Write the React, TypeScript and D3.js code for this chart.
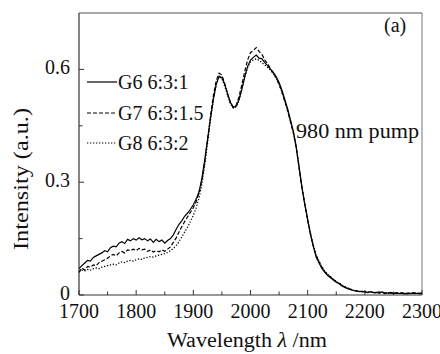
import React from "react";
import * as d3 from "d3";

const wavelengths: number[] = d3.range(1700, 2301, 5);

const g6Values: number[] = [
  0.070, 0.078, 0.085, 0.092, 0.090, 0.100, 0.104, 0.108, 0.112, 0.118,
  0.115, 0.126, 0.130, 0.128, 0.138, 0.142, 0.137, 0.148, 0.144, 0.150,
  0.146, 0.152, 0.147, 0.150, 0.144, 0.149, 0.140, 0.148, 0.142, 0.146,
  0.138, 0.145, 0.150, 0.160, 0.175, 0.188, 0.198, 0.210, 0.218, 0.228,
  0.240, 0.255, 0.275, 0.310, 0.360, 0.415, 0.470, 0.520, 0.560, 0.582,
  0.578, 0.560, 0.535, 0.512, 0.500, 0.502, 0.520, 0.548, 0.580, 0.608,
  0.625, 0.632, 0.638, 0.630, 0.628, 0.618, 0.610, 0.600, 0.592, 0.580,
  0.565, 0.545, 0.520, 0.495, 0.465, 0.435, 0.395, 0.340, 0.285, 0.240,
  0.200, 0.160, 0.128, 0.100, 0.085, 0.070, 0.060, 0.052, 0.046, 0.040,
  0.034, 0.030, 0.024, 0.020, 0.017, 0.014, 0.012, 0.011, 0.009, 0.010,
  0.008, 0.007, 0.009, 0.006, 0.007, 0.005, 0.008, 0.006, 0.005, 0.007,
  0.004, 0.006, 0.004, 0.005, 0.003, 0.005, 0.004, 0.006, 0.004, 0.005,
  0.004,
];

const g7Values: number[] = [
  0.060, 0.072, 0.066, 0.076, 0.074, 0.080, 0.078, 0.086, 0.090, 0.094,
  0.098, 0.104, 0.108, 0.104, 0.112, 0.116, 0.112, 0.120, 0.118, 0.122,
  0.118, 0.124, 0.120, 0.122, 0.116, 0.120, 0.114, 0.118, 0.115, 0.120,
  0.116, 0.122, 0.128, 0.140, 0.152, 0.168, 0.182, 0.196, 0.208, 0.220,
  0.232, 0.248, 0.272, 0.305, 0.355, 0.415, 0.475, 0.530, 0.570, 0.590,
  0.585, 0.562, 0.535, 0.510, 0.498, 0.505, 0.528, 0.560, 0.595, 0.625,
  0.645, 0.650, 0.658, 0.648, 0.640, 0.625, 0.615, 0.602, 0.590, 0.578,
  0.560, 0.540, 0.515, 0.490, 0.460, 0.430, 0.390, 0.338, 0.285, 0.242,
  0.200, 0.162, 0.130, 0.104, 0.088, 0.074, 0.062, 0.054, 0.048, 0.041,
  0.036, 0.031, 0.026, 0.021, 0.018, 0.015, 0.013, 0.010, 0.011, 0.008,
  0.009, 0.006, 0.008, 0.007, 0.005, 0.008, 0.006, 0.004, 0.007, 0.005,
  0.006, 0.004, 0.005, 0.006, 0.004, 0.003, 0.005, 0.004, 0.006, 0.003,
  0.005,
];

const g8Values: number[] = [
  0.062, 0.066, 0.064, 0.068, 0.066, 0.070, 0.072, 0.070, 0.074, 0.076,
  0.078, 0.080, 0.082, 0.080, 0.085, 0.088, 0.086, 0.090, 0.092, 0.090,
  0.094, 0.096, 0.095, 0.099, 0.100, 0.102, 0.101, 0.104, 0.106, 0.108,
  0.110, 0.113, 0.118, 0.124, 0.132, 0.142, 0.155, 0.168, 0.180, 0.196,
  0.212, 0.232, 0.258, 0.295, 0.345, 0.405, 0.465, 0.520, 0.560, 0.580,
  0.575, 0.555, 0.530, 0.508, 0.497, 0.500, 0.518, 0.548, 0.580, 0.605,
  0.620, 0.625, 0.628, 0.624, 0.618, 0.612, 0.605, 0.598, 0.588, 0.576,
  0.560, 0.540, 0.515, 0.490, 0.462, 0.432, 0.393, 0.340, 0.288, 0.243,
  0.202, 0.165, 0.132, 0.106, 0.090, 0.075, 0.063, 0.055, 0.049, 0.042,
  0.036, 0.032, 0.027, 0.022, 0.019, 0.016, 0.013, 0.012, 0.010, 0.009,
  0.010, 0.007, 0.008, 0.006, 0.008, 0.005, 0.007, 0.006, 0.004, 0.006,
  0.005, 0.004, 0.006, 0.003, 0.005, 0.004, 0.005, 0.003, 0.005, 0.004,
  0.004,
];

const seriesNames: string[] = ["G6 6:3:1", "G7 6:3:1.5", "G8 6:3:2"];
const xMajorTicks: number[] = [1700, 1800, 1900, 2000, 2100, 2200, 2300];
const xMinorTicks: number[] = [1750, 1850, 1950, 2050, 2150, 2250];
const yMajorTicks: number[] = [0, 0.3, 0.6];
const yMinorTicks: number[] = [0.15, 0.45];
const yTickLabels: string[] = ["0", "0.3", "0.6"];

const FF = "Liberation Serif";

function T(props: any) {
  const { children, style, ...rest } = props;
  return (
    <text fontFamily={FF} style={{ fontFamily: `"${FF}"`, ...(style || {}) }} fill="#111" {...rest}>
      {children}
    </text>
  );
}

export default function App() {
  const W = 440;
  const H = 354;
  const left = 79;
  const right = 422;
  const top = 13;
  const bottom = 295;

  const x = d3.scaleLinear().domain([1700, 2300]).range([left, right]);
  const y = d3.scaleLinear().domain([0, 0.75]).range([bottom, top]);

  const line = d3
    .line<number>()
    .x((_, i) => x(wavelengths[i]))
    .y((d) => y(d));

  const series = [
    { name: seriesNames[0], values: g6Values, dash: "none" },
    { name: seriesNames[1], values: g7Values, dash: "4,2" },
    { name: seriesNames[2], values: g8Values, dash: "1.3,1.7" },
  ];

  const legendY = [82, 113, 143];

  return (
    <svg
      width={W}
      height={H}
      fontFamily={FF}
      style={{ position: "absolute", left: 0, top: 0, background: "#fff", fontFamily: `"${FF}"` }}
    >
      <rect x={0} y={0} width={W} height={H} fill="#fff" />
      <line x1={left} x2={right} y1={top} y2={top} stroke="#555" strokeWidth={1} />
      <line x1={right} x2={right} y1={top} y2={bottom} stroke="#777" strokeWidth={1} />
      <line x1={left} x2={left} y1={top} y2={bottom} stroke="#333" strokeWidth={1.2} />
      <line x1={left} x2={right} y1={bottom} y2={bottom} stroke="#333" strokeWidth={1.2} />

      {xMajorTicks.map((t) => (
        <g key={"xm" + t}>
          <line x1={x(t)} x2={x(t)} y1={bottom} y2={bottom - 5} stroke="#333" />
          <T x={x(t)} y={318} fontSize={20} textAnchor="middle">
            {String(t)}
          </T>
        </g>
      ))}
      {xMinorTicks.map((t) => (
        <line key={"xn" + t} x1={x(t)} x2={x(t)} y1={bottom} y2={bottom - 3.5} stroke="#333" />
      ))}

      {yMajorTicks.map((t, i) => (
        <g key={"ym" + t}>
          <line x1={left} x2={left + 5} y1={y(t)} y2={y(t)} stroke="#333" />
          <T x={70} y={y(t) + 5} fontSize={20} textAnchor="end">
            {yTickLabels[i]}
          </T>
        </g>
      ))}
      {yMinorTicks.map((t) => (
        <line key={"yn" + t} x1={left} x2={left + 3.5} y1={y(t)} y2={y(t)} stroke="#333" />
      ))}

      {series.map((s) => (
        <path
          key={s.name}
          d={line(s.values) || ""}
          fill="none"
          stroke="#000"
          strokeWidth={1.2}
          strokeDasharray={s.dash}
        />
      ))}

      {series.map((s, i) => (
        <g key={"lg" + s.name}>
          <line
            x1={87}
            x2={117}
            y1={legendY[i]}
            y2={legendY[i]}
            stroke="#000"
            strokeWidth={1.2}
            strokeDasharray={s.dash}
          />
          <T x={118} y={legendY[i] + 6.5} fontSize={20}>
            {s.name}
          </T>
        </g>
      ))}

      <T x={384} y={32} fontSize={20}>
        (a)
      </T>
      <T x={296} y={138} fontSize={20} textLength={123} lengthAdjust="spacingAndGlyphs">
        980 nm pump
      </T>

      <T x={247} y={347} fontSize={20} textAnchor="middle" textLength={160} lengthAdjust="spacingAndGlyphs">
        Wavelength <tspan fontStyle="italic">λ</tspan> /nm
      </T>
      <T
        transform="translate(28,179) rotate(-90)"
        fontSize={20}
        textAnchor="middle"
        textLength={142}
        lengthAdjust="spacingAndGlyphs"
      >
        Intensity (a.u.)
      </T>
    </svg>
  );
}
